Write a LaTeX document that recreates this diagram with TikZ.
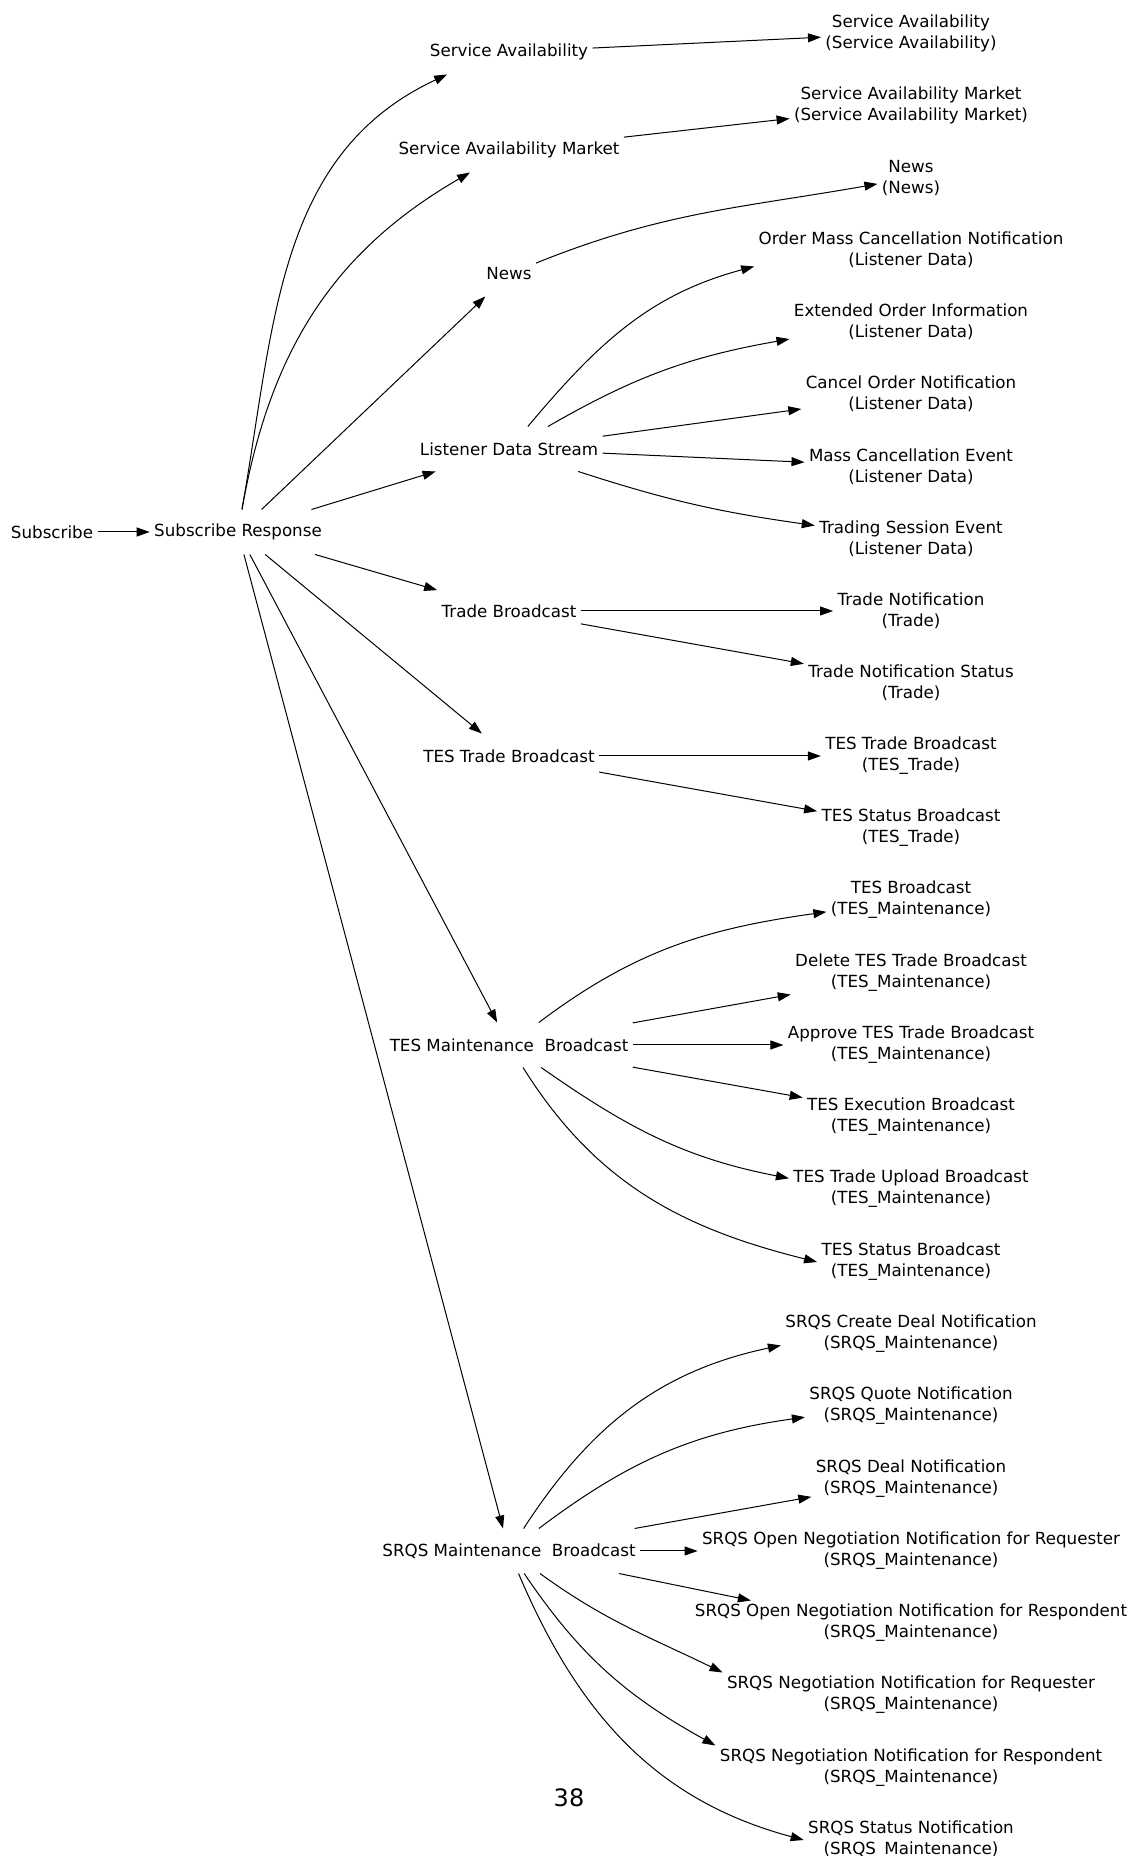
\documentclass[tikz,border=0pt]{standalone}
\usepackage{fontspec}
\setmainfont{DejaVu Sans}
\usetikzlibrary{arrows.meta}

\begin{document}
\begin{tikzpicture}[x=1pt,y=1pt,line width=1pt,
  every node/.style={font=\fontsize{16.7}{20.9}\selectfont,align=center,
    inner xsep=4pt,inner ysep=0pt,minimum height=44pt},
  >={Triangle[length=13pt,width=9pt]}]
\useasboundingbox (0,2) rectangle (1130,1858);
% request
\node (sub) at (52,1326) {Subscribe};
\node (subr) at (238,1326) {Subscribe Response};
% streams
\node (sa) at (509,1806) {Service Availability};
\node (sam) at (509,1708) {Service Availability Market};
\node (news) at (509,1584) {News};
\node (lds) at (509,1409) {Listener Data Stream};
\node (trade) at (509,1247) {Trade Broadcast};
\node (tes) at (509,1102) {TES Trade Broadcast};
\node (tesm) at (509,813) {TES Maintenance\ \ Broadcast};
\node (srqs) at (509,307) {SRQS Maintenance\ \ Broadcast};
% messages
\node (sa1) at (911,1825) {Service Availability\\(Service Availability)};
\node (sam1) at (911,1753) {Service Availability Market\\(Service Availability Market)};
\node (news1) at (911,1680) {News\\(News)};
\node (ld1) at (911,1608) {Order Mass Cancellation Notification\\(Listener Data)};
\node (ld2) at (911,1536) {Extended Order Information\\(Listener Data)};
\node (ld3) at (911,1464) {Cancel Order Notification\\(Listener Data)};
\node (ld4) at (911,1391) {Mass Cancellation Event\\(Listener Data)};
\node (ld5) at (911,1319) {Trading Session Event\\(Listener Data)};
\node (tr1) at (911,1247) {Trade Notification\\(Trade)};
\node (tr2) at (911,1175) {Trade Notification Status\\(Trade)};
\node (tt1) at (911,1102) {TES Trade Broadcast\\(TES\_Trade)};
\node (tt2) at (911,1030) {TES Status Broadcast\\(TES\_Trade)};
\node (tm1) at (911,958) {TES Broadcast\\(TES\_Maintenance)};
\node (tm2) at (911,885) {Delete TES Trade Broadcast\\(TES\_Maintenance)};
\node (tm3) at (911,813) {Approve TES Trade Broadcast\\(TES\_Maintenance)};
\node (tm4) at (911,741) {TES Execution Broadcast\\(TES\_Maintenance)};
\node (tm5) at (911,669) {TES Trade Upload Broadcast\\(TES\_Maintenance)};
\node (tm6) at (911,596) {TES Status Broadcast\\(TES\_Maintenance)};
\node (sq1) at (911,524) {SRQS Create Deal Notification\\(SRQS\_Maintenance)};
\node (sq2) at (911,452) {SRQS Quote Notification\\(SRQS\_Maintenance)};
\node (sq3) at (911,379) {SRQS Deal Notification\\(SRQS\_Maintenance)};
\node (sq4) at (911,307) {SRQS Open Negotiation Notification for Requester\\(SRQS\_Maintenance)};
\node (sq5) at (911,235) {SRQS Open Negotiation Notification for Respondent\\(SRQS\_Maintenance)};
\node (sq6) at (911,163) {SRQS Negotiation Notification for Requester\\(SRQS\_Maintenance)};
\node (sq7) at (911,90) {SRQS Negotiation Notification for Respondent\\(SRQS\_Maintenance)};
\node (sq8) at (911,18) {SRQS Status Notification\\(SRQS\_Maintenance)};
\node[font=\fontsize{24}{28}\selectfont] (pagenum) at (569,60) {38};

% subscribe to streams
\draw[->] (sub) -- (subr);
\draw[->] (subr) to[out=80,in=205] (sa.200);
\draw[->] (subr) to[out=80,in=210] (sam);
\draw[->] (subr) -- (news);
\draw[->] (subr) -- (lds);
\draw[->] (subr) -- (trade);
\draw[->] (subr) -- (tes);
\draw[->] (subr) -- (tesm);
\draw[->] (subr) -- (srqs);

% streams to messages
\draw[->] (sa) -- (sa1);
\draw[->] (sam) -- (sam1);
\draw[->] (news) to[out=22,in=190] (news1);
\draw[->] (lds) to[out=50,in=195] (ld1.186);
\draw[->] (lds) to[out=30,in=190] (ld2.188);
\draw[->] (lds) -- (ld3);
\draw[->] (lds) -- (ld4);
\draw[->] (lds) to[out=-18,in=172] (ld5);
\draw[->] (trade) -- (tr1);
\draw[->] (trade) -- (tr2);
\draw[->] (tes) -- (tt1);
\draw[->] (tes) -- (tt2);
\draw[->] (tesm) to[out=37,in=188] (tm1);
\draw[->] (tesm) -- (tm2);
\draw[->] (tesm) -- (tm3);
\draw[->] (tesm) -- (tm4);
\draw[->] (tesm) to[out=-35,in=169] (tm5.175);
\draw[->] (tesm) to[out=-58,in=166] (tm6.west);
\draw[->] (srqs) to[out=57,in=192] (sq1.185);
\draw[->] (srqs) to[out=37,in=188] (sq2.186);
\draw[->] (srqs) -- (sq3);
\draw[->] (srqs) -- (sq4);
\draw[->] (srqs) -- (sq5.172);
\draw[->] (srqs) to[out=-36,in=154] (sq6.north west);
\draw[->] (srqs) to[out=-56,in=151] (sq7.north west);
\draw[->] (srqs) to[out=-67,in=165] (sq8.west);
\end{tikzpicture}
\end{document}
